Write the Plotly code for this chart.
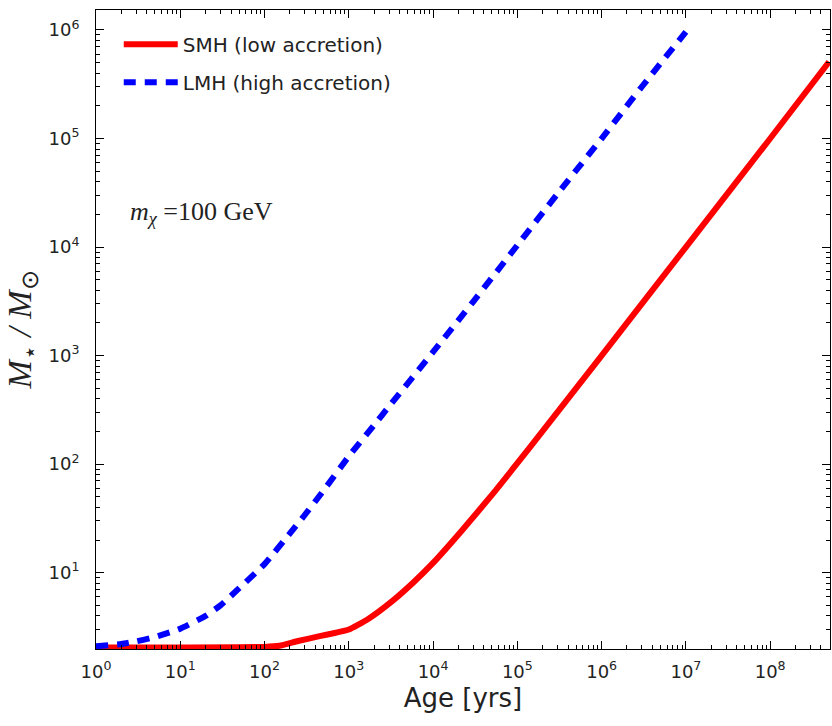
import plotly.graph_objects as go

# Data
age_lmh = [1, 2, 3, 5, 10, 20, 30, 50, 100, 200, 300, 500, 1000, 2000, 3000, 1e4, 3e4, 1e5, 3e5, 1e6, 3e6, 1e7]
mass_lmh = [2.1, 2.2, 2.33, 2.55, 3.05, 4.0, 5.0, 7.2, 12, 23, 34, 57, 118, 230, 340, 1080, 3150, 1.04e4, 3.1e4, 1.0e5, 3.0e5, 9.6e5]

age_smh = [1, 10, 100, 150, 250, 450, 700, 1000, 1700, 3300, 6000, 1e4, 2.2e4, 5.5e4, 1.4e5, 1e6, 1e7, 1e8, 5e8]
mass_smh = [2.05, 2.05, 2.07, 2.12, 2.35, 2.6, 2.8, 3.0, 3.75, 5.5, 8.3, 12.3, 24.5, 57, 142, 1000, 1.0e4, 1.0e5, 5.1e5]

x_major = [10 ** k for k in range(0, 9)]
x_major_text = ["10<sup>%d</sup>" % k for k in range(0, 9)]
y_major = [10 ** k for k in range(1, 7)]
y_major_text = ["10<sup>%d</sup>" % k for k in range(1, 7)]
x_minor = [m * 10 ** k for k in range(0, 9) for m in range(2, 10)]
y_minor = [m * 10 ** k for k in range(0, 7) for m in range(2, 10)]

fig = go.Figure()
fig.add_trace(go.Scatter(
    x=age_smh, y=mass_smh, mode="lines", name="SMH (low accretion)",
    legendgroup="a",
    line=dict(color="#FF0000", width=6, shape="spline", smoothing=0.5),
))
fig.add_trace(go.Scatter(
    x=age_lmh, y=mass_lmh, mode="lines", name="LMH (high accretion)",
    legendgroup="b",
    line=dict(color="#0000FF", width=6, dash="12px,9px", shape="spline", smoothing=0.5),
))

axis_common = dict(
    type="log", showgrid=False, zeroline=False,
    showline=True, linecolor="black", linewidth=1, mirror="allticks",
    ticks="inside", ticklen=8, tickwidth=1, tickcolor="black",
    tickfont=dict(family="DejaVu Sans", size=18, color="#222222"),
)

fig.update_xaxes(
    **axis_common,
    range=[0, 8.71],
    tickmode="array", tickvals=x_major, ticktext=x_major_text,
    minor=dict(ticks="inside", ticklen=4, tickcolor="black", tickvals=x_minor, showgrid=False),
    ticklabelstandoff=6,
    title=dict(text="Age [yrs]", font=dict(family="DejaVu Sans", size=26, color="#222222"), standoff=8),
)
fig.update_yaxes(
    **axis_common,
    range=[0.297, 6.184],
    tickmode="array", tickvals=y_major, ticktext=y_major_text,
    minor=dict(ticks="inside", ticklen=4, tickcolor="black", tickvals=y_minor, showgrid=False),
    ticklabelstandoff=12,
    title=dict(text="<i>M</i><sub>⋆</sub><i> / M</i><sub>⊙</sub>",
               font=dict(family="Liberation Serif", size=34, color="#222222"), standoff=6),
)

fig.add_annotation(
    xref="paper", yref="paper", x=0.044, y=0.682, xanchor="left", yanchor="middle",
    text="<i>m</i><sub><i>χ</i></sub> =100 GeV", showarrow=False,
    font=dict(family="Liberation Serif", size=26, color="#222222"),
)

fig.update_layout(
    width=832, height=726,
    margin=dict(l=96, r=2, t=10, b=77),
    paper_bgcolor="white", plot_bgcolor="white",
    legend=dict(
        x=0.031, y=0.977, xanchor="left", yanchor="top",
        font=dict(family="DejaVu Sans", size=20, color="#222222"),
        bgcolor="rgba(0,0,0,0)", tracegroupgap=9, itemwidth=54,
    ),
    showlegend=True,
)

fig.write_html("out.html")
